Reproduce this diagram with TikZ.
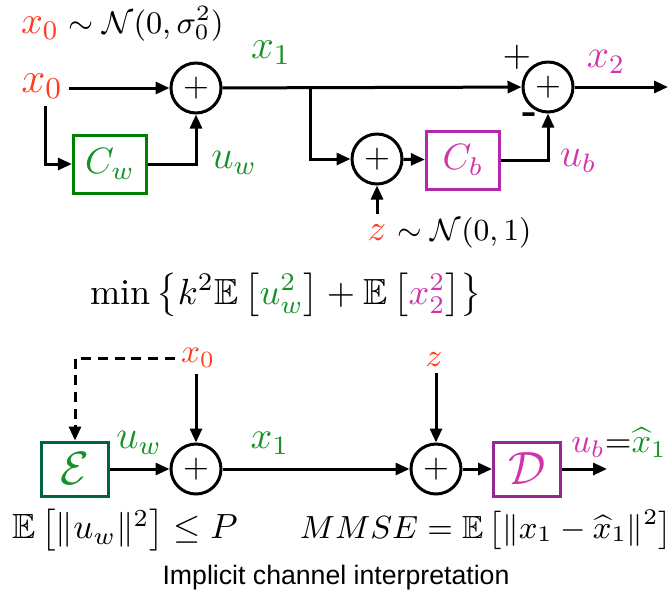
\RequirePackage{fix-cm}
\documentclass[tikz,border=0pt]{standalone}
\usepackage{amsmath,amssymb}
\usepackage{fontspec}
\newfontfamily\hel{Liberation Sans}
\usetikzlibrary{arrows.meta}
\newcommand\fsz[1]{\fontsize{#1}{#1}\selectfont}
\definecolor{myred}{RGB}{255,60,30}
\definecolor{tgreen}{RGB}{20,145,40}
\definecolor{cwgreen}{RGB}{0,128,0}
\definecolor{egreen}{RGB}{0,100,60}
\definecolor{tmag}{RGB}{210,50,170}
\definecolor{cbmag}{RGB}{180,40,170}
\definecolor{dpurple}{RGB}{150,40,150}
\begin{document}
\begin{tikzpicture}[x=0.3pt,y=-0.3pt,line width=0.9pt,
  arr/.style={-{Triangle[length=4.2pt,width=3.6pt]}},
  sumnode/.style={circle,draw,line width=0.9pt,minimum size=15pt,inner sep=0pt,font=\fsz{10}},
  blk/.style={draw,line width=0.9pt,minimum width=22pt,minimum height=17.4pt,inner sep=0pt},
  lbl/.style={inner sep=1.5pt}]
\useasboundingbox (0,0) rectangle (670,592);
% ---------- top diagram ----------
\node[lbl,text=myred,font=\fsz{11.5}] (tx0) at (40,28) {$x_0$};
\node[inner sep=0pt,anchor=base west,font=\fsz{9.4}] (tN) at ([xshift=0.5pt]tx0.base east) {$\sim\mathcal{N}(0,\sigma_0^2)$};
\node[lbl,text=myred,font=\fsz{13}] (x0) at (42,86) {$x_0$};
\node[sumnode] (s1) at (196,88) {$+$};
\node[blk,draw=cwgreen,text=tgreen,font=\fsz{11}] (cw) at (110,164) {$C_w$};
\node[sumnode] (s2) at (548,87) {$+$};
\node[sumnode] (s3) at (377,159) {$+$};
\node[blk,draw=cbmag,text=tmag,font=\fsz{11}] (cb) at (463,160) {$C_b$};
\coordinate (b1) at (310,88);
\coordinate (x0d) at (45,106);
\coordinate (out1) at (668,87);
\node[lbl,text=myred,font=\fsz{11}] (z) at (377,233) {$z$};
\node[inner sep=0pt,anchor=base west,font=\fsz{9.2}] (zN) at ([xshift=1pt]z.base east) {$\sim\mathcal{N}(0,1)$};
\node[lbl,text=tgreen,font=\fsz{12.3}] (lx1) at (271,53) {$x_1$};
\node[lbl,text=tgreen,font=\fsz{12}] (luw) at (234,163) {$u_w$};
\node[lbl,font=\fsz{11}] (plus) at (517,57) {$+$};
\node[lbl,font=\bfseries\fsz{12}] (minus) at (530,118) {-};
\node[lbl,text=tmag,font=\fsz{12}] (lx2) at (606,62) {$x_2$};
\node[lbl,text=tmag,font=\fsz{12}] (lub) at (578,161) {$u_b$};
\draw[arr] (x0.east |- s1.west) -- (s1.west);
\draw[arr] (x0d) |- (cw.west);
\draw[arr] (cw.east) -| (s1.south);
\draw[arr] (s1) -- (s2);
\draw[arr] (b1) |- (s3.west);
\draw[arr] (s3) -- (cb);
\draw[arr] (cb.east) -| (s2.south);
\draw[arr] (s2) -- (out1);
\draw[arr] ([yshift=1.5pt]z.north) -- (s3.south);
% ---------- objective ----------
\node[font=\fsz{10.9}] (minf) at (286,295) {$\min\left\{k^2\mathbb{E}\left[\textcolor{tgreen}{u_w^2}\right]+\mathbb{E}\left[\textcolor{tmag}{x_2^2}\right]\right\}$};
% ---------- bottom diagram ----------
\node[lbl,text=myred,font=\fsz{10}] (x0b) at (198,358) {$x_0$};
\node[blk,draw=egreen,text=tgreen,minimum width=20.1pt,minimum height=16.2pt,font=\fsz{14}] (eb) at (75,469) {$\mathcal{E}$};
\node[sumnode] (s4) at (196,469) {$+$};
\node[sumnode] (s5) at (436,469) {$+$};
\node[lbl,text=myred,font=\fsz{9.7}] (zb) at (434,360) {$z$};
\node[blk,draw=dpurple,text=tmag,minimum width=20.1pt,minimum height=16.2pt,font=\fsz{14}] (db) at (527,469) {$\mathcal{D}$};
\coordinate (out2) at (607,469);
\node[lbl,text=tgreen,font=\fsz{12}] (luwb) at (139,443) {$u_w$};
\node[lbl,text=tgreen,font=\fsz{11.4}] (lx1b) at (270,443) {$x_1$};
\node[lbl,font=\fsz{10.3}] (lubb) at (619,443) {$\textcolor{tmag}{u_b}{=}\textcolor{tgreen}{\widehat{x}_1}$};
\node[font=\fsz{10.5}] (pc) at (125,530) {$\mathbb{E}\left[\|u_w\|^2\right]\leq P$};
\node[inner sep=0pt,font=\fsz{9.6}] (mm) at (486,530) {$MMSE=\mathbb{E}\left[\|x_1-\widehat{x}_1\|^2\right]$};
\node[font=\hel\fsz{8}] (cap) at (336,578) {Implicit channel interpretation};
\draw[arr,dash pattern=on 3pt off 2pt] (x0b.west) -| (eb.north);
\draw[arr] (x0b.south -| s4) -- (s4.north);
\draw[arr] (eb) -- (s4);
\draw[arr] (s4) -- (s5);
\draw[arr] (zb.south -| s5) -- (s5.north);
\draw[arr] (s5) -- (db);
\draw[arr] (db) -- (out2);
\end{tikzpicture}
\end{document}
